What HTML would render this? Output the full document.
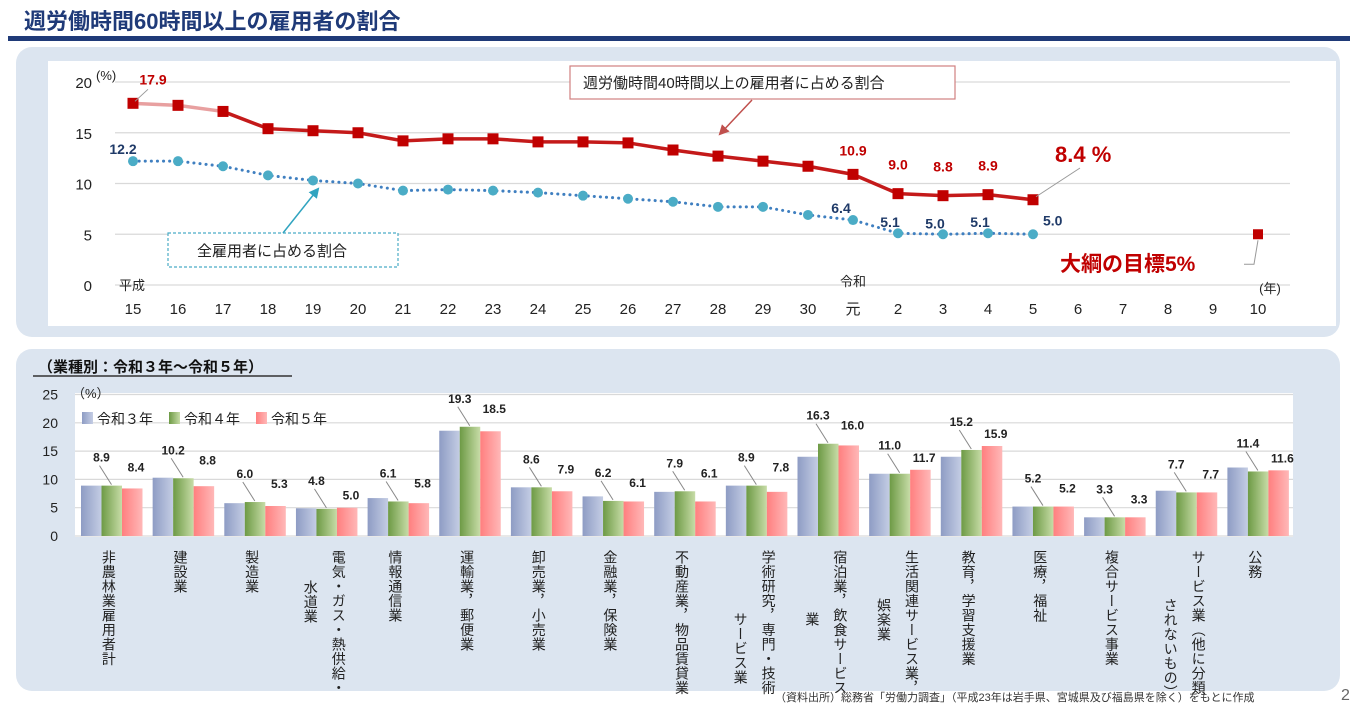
<!DOCTYPE html>
<html><head><meta charset="utf-8">
<style>
body{margin:0;width:1360px;height:709px;background:#fff;position:relative;overflow:hidden;font-family:"Liberation Sans","Noto Sans CJK JP",sans-serif;}
.cat{position:absolute;writing-mode:vertical-rl;font-size:14px;line-height:16px;color:#222;letter-spacing:0.5px;transform:translateX(-50%);white-space:nowrap;}
</style></head>
<body>
<svg id="svg" width="1360" height="709" style="position:absolute;left:0;top:0" font-family="Liberation Sans, Noto Sans CJK JP, sans-serif">
<defs>
<linearGradient id="gB" x1="0" x2="1"><stop offset="0" stop-color="#8e9cc4"/><stop offset="1" stop-color="#c4cde4"/></linearGradient>
<linearGradient id="gG" x1="0" x2="1"><stop offset="0" stop-color="#6d9a45"/><stop offset="1" stop-color="#c7dca7"/></linearGradient>
<linearGradient id="gR" x1="0" x2="1"><stop offset="0" stop-color="#ff7f7f"/><stop offset="1" stop-color="#ffb8b8"/></linearGradient>
<marker id="ar" viewBox="0 0 10 10" refX="8" refY="5" markerWidth="7" markerHeight="7" orient="auto"><path d="M0,0L10,5L0,10z" fill="#c0504d"/></marker>
<marker id="ab" viewBox="0 0 10 10" refX="8" refY="5" markerWidth="7" markerHeight="7" orient="auto"><path d="M0,0L10,5L0,10z" fill="#31a4c0"/></marker>
</defs>
<text x="24" y="29" font-size="22" font-weight="bold" fill="#1f3a78">週労働時間60時間以上の雇用者の割合</text>
<rect x="8" y="36" width="1342" height="5" fill="#1f3a78"/>
<rect x="16" y="47" width="1324" height="290" rx="16" fill="#dce5f0"/>
<rect x="48" y="61" width="1288" height="265" fill="#fff"/>
<rect x="16" y="349" width="1324" height="342" rx="16" fill="#dce5f0"/>
<rect x="75" y="393" width="1218" height="144" fill="#fff"/>
<g id="top"></g>
<g id="bot"></g>
<text x="38" y="372" font-size="15" font-weight="bold" fill="#111">（業種別：令和３年～令和５年）</text>
<line x1="33" y1="376" x2="292" y2="376" stroke="#333" stroke-width="1.5"/>
<text x="775" y="701" font-size="11" fill="#333">（資料出所）総務省「労働力調査」（平成23年は岩手県、宮城県及び福島県を除く）をもとに作成</text>
<text x="1341" y="700" font-size="16" fill="#666">2</text>
</svg>
<script>
// top chart data
const years=['15','16','17','18','19','20','21','22','23','24','25','26','27','28','29','30','元','2','3','4','5','6','7','8','9','10'];
const red=[17.9,17.7,17.1,15.4,15.2,15.0,14.2,14.4,14.4,14.1,14.1,14.0,13.3,12.7,12.2,11.7,10.9,9.0,8.8,8.9,8.4];
const blue=[12.2,12.2,11.7,10.8,10.3,10.0,9.3,9.4,9.3,9.1,8.8,8.5,8.2,7.7,7.7,6.9,6.4,5.1,5.0,5.1,5.0];
const target=5;
const yTicks=[0,5,10,15,20];
// bottom chart data
const cats=['非農林業雇用者計','建設業','製造業','電気・ガス・熱供給・|水道業','情報通信業','運輸業，郵便業','卸売業，小売業','金融業，保険業','不動産業，物品賃貸業','学術研究，専門・技術|サービス業','宿泊業，飲食サービス|業','生活関連サービス業，|娯楽業','教育，学習支援業','医療，福祉','複合サービス事業','サービス業（他に分類|されないもの）','公務'];
const r3=[8.9,10.3,5.8,4.9,6.7,18.6,8.6,7.0,7.8,8.9,14.0,11.0,14.0,5.2,3.3,8.0,12.1];
const r4=[8.9,10.2,6.0,4.8,6.1,19.3,8.6,6.2,7.9,8.9,16.3,11.0,15.2,5.2,3.3,7.7,11.4];
const r5=[8.4,8.8,5.3,5.0,5.8,18.5,7.9,6.1,6.1,7.8,16.0,11.7,15.9,5.2,3.3,7.7,11.6];
const bTicks=[0,5,10,15,20,25];

const NS='http://www.w3.org/2000/svg';
function mk(p,tag,a,txt){const e=document.createElementNS(NS,tag);for(const k in a)e.setAttribute(k,a[k]);if(txt!=null)e.textContent=txt;p.appendChild(e);return e;}
const T=document.getElementById('top');
const X=i=>133+i*45, Y=v=>285-v*10.15;
yTicks.forEach(t=>{
  const l=mk(T,'line',{x1:115,x2:1290,y1:Y(t),y2:Y(t),stroke:'#d9d9d9','stroke-width':1.2});
  
  
  const tx=mk(T,'text',{x:92,y:Y(t)+6,'font-size':15,'text-anchor':'end',fill:'#222'},t);
  
  
});
mk(T,'text',{x:96,y:80,'font-size':13,fill:'#222'},'(%)');
years.forEach((s,i)=>{
  const tx=mk(T,'text',{x:X(i),y:314,'font-size':15,'text-anchor':'middle',fill:'#222'},s);
  
  
});
mk(T,'text',{x:119,y:290,'font-size':13,fill:'#222'},'平成');
mk(T,'text',{x:853,y:286,'font-size':13,'text-anchor':'middle',fill:'#222'},'令和');
mk(T,'text',{x:1270,y:293,'font-size':13,'text-anchor':'middle',fill:'#222'},'(年)');
let bp=blue.map((v,i)=>X(i)+','+Y(v)).join(' ');
const bl=mk(T,'polyline',{points:bp,fill:'none',stroke:'#3f7fc0','stroke-width':3,'stroke-dasharray':'0.1 6','stroke-linecap':'round'});


blue.forEach((v,i)=>{
  const c=mk(T,'circle',{cx:X(i),cy:Y(v),r:5,fill:'#4bacc6'});
  
  
});
const rp1=red.slice(0,3).map((v,i)=>X(i)+','+Y(v)).join(' ');
mk(T,'polyline',{points:rp1,fill:'none',stroke:'#e8a0a0','stroke-width':3.5});
const rp=red.slice(2).map((v,i)=>X(i+2)+','+Y(v)).join(' ');
const rl=mk(T,'polyline',{points:rp,fill:'none',stroke:'#c41a1a','stroke-width':3.5});


red.forEach((v,i)=>{
  const r=mk(T,'rect',{x:X(i)-5.5,y:Y(v)-5.5,width:11,height:11,fill:'#c00000'});
  
  
});
const tg=mk(T,'rect',{x:X(25)-5,y:Y(target)-5,width:10,height:10,fill:'#c00000'});


mk(T,'polyline',{points:`${X(25)},${Y(target)+6} ${X(25)-4},${Y(target)+30} ${X(25)-14},${Y(target)+30}`,fill:'none',stroke:'#999'});
const lab=(x,y,t,c,fs,a)=>mk(T,'text',{x,y,'font-size':fs||14,'font-weight':'bold',fill:c,'text-anchor':a||'middle'},t);
lab(X(0)+20,Y(red[0])-19,red[0].toFixed(1),'#c00000');
mk(T,'line',{x1:X(0)+2,y1:Y(red[0])-2,x2:X(0)+15,y2:Y(red[0])-14,stroke:'#999'});
[16,17,18,19].forEach(i=>lab(X(i),Y(red[i])-(i==16?19:24),red[i].toFixed(1),'#c00000'));
lab(1055,162,red[20].toFixed(1)+' %','#c00000',22,'start');
mk(T,'line',{x1:X(20)+3,y1:Y(red[20])-3,x2:1080,y2:168,stroke:'#999'});
lab(X(0)-10,Y(blue[0])-7,blue[0].toFixed(1),'#1f3a68');
lab(X(16)-12,Y(blue[16])-7,blue[16].toFixed(1),'#1f3a68');
[17,18,19].forEach(i=>lab(X(i)-8,Y(blue[i])-6,blue[i].toFixed(1),'#1f3a68'));
lab(X(20)+10,Y(blue[20])-9,blue[20].toFixed(1),'#1f3a68',14,'start');
lab(1060,271,'大綱の目標5%','#c00000',21,'start');
mk(T,'rect',{x:570,y:66,width:385,height:33,fill:'#fff',stroke:'#d08080','stroke-width':1.2});
mk(T,'text',{x:583,y:88,'font-size':15,fill:'#222'},'週労働時間40時間以上の雇用者に占める割合');
mk(T,'line',{x1:752,y1:100,x2:720,y2:134,stroke:'#c0504d','stroke-width':1.5,'marker-end':'url(#ar)'});
mk(T,'rect',{x:168,y:233,width:230,height:34,fill:'#fff',stroke:'#4bacc6','stroke-width':1.2,'stroke-dasharray':'3 2'});
mk(T,'text',{x:197,y:256,'font-size':15,fill:'#222'},'全雇用者に占める割合');
mk(T,'line',{x1:283,y1:233,x2:318,y2:189,stroke:'#31a4c0','stroke-width':1.5,'marker-end':'url(#ab)'});

// bottom chart
const B=document.getElementById('bot');
const BY=v=>536-v*5.66, GW=71.65, G0=76;
bTicks.forEach(t=>{
  const l=mk(B,'line',{x1:75,x2:1293,y1:BY(t),y2:BY(t),stroke:'#d9d9d9','stroke-width':1.2});
  
  
  const tx=mk(B,'text',{x:58,y:BY(t)+5,'font-size':14,'text-anchor':'end',fill:'#222'},t);
  
  
});
mk(B,'text',{x:72,y:398,'font-size':13,fill:'#222'},'（%）');
const series=[[r3,'url(#gB)'],[r4,'url(#gG)'],[r5,'url(#gR)']];
const secondTop={3:580,9:612,10:612,11:598,15:598};
cats.forEach((c,i)=>{
  const gx=G0+i*GW;
  series.forEach(([arr,f],k)=>{
    const bx=gx+5+k*20.5;
    const r=mk(B,'rect',{x:bx,y:BY(arr[i]),width:20.5,height:arr[i]*5.66,fill:f});
    
    
  });
  const x4=gx+5+20.5+10, x5=gx+5+41+10;
  const y4=BY(r4[i]), y5=BY(r5[i]);
  mk(B,'text',{x:x4-10,y:y4-24,'font-size':12,'font-weight':'bold',fill:'#222','text-anchor':'middle'},r4[i].toFixed(1));
  mk(B,'line',{x1:x4-12,y1:y4-20,x2:x4,y2:y4-1,stroke:'#888'});
  mk(B,'text',{x:x5+4,y:Math.min(y5,y4)-(y5<y4?8:14),'font-size':12,'font-weight':'bold',fill:'#222','text-anchor':'middle'},r5[i].toFixed(1));
  const parts=c.split('|');
  const cx=gx+GW/2;
  parts.forEach((p,j)=>{
    const d=document.createElement('div');
    d.className='cat';
    d.textContent=p;
    const two=parts.length>1;
    d.style.left=(two?(j==0?cx+12:cx-16):cx-3)+'px';
    d.style.top=(j==0?550:secondTop[i])+'px';
    
    
    document.body.appendChild(d);
  });
});
const lg=[['令和３年','url(#gB)'],['令和４年','url(#gG)'],['令和５年','url(#gR)']];
lg.forEach(([t,f],k)=>{
  const x=82+k*87;
  const r=mk(B,'rect',{x,y:412,width:11,height:12,fill:f});
  
  
  const tx=mk(B,'text',{x:x+15,y:424,'font-size':14,fill:'#222'},t);
  
  
});
</script>
</body></html>
